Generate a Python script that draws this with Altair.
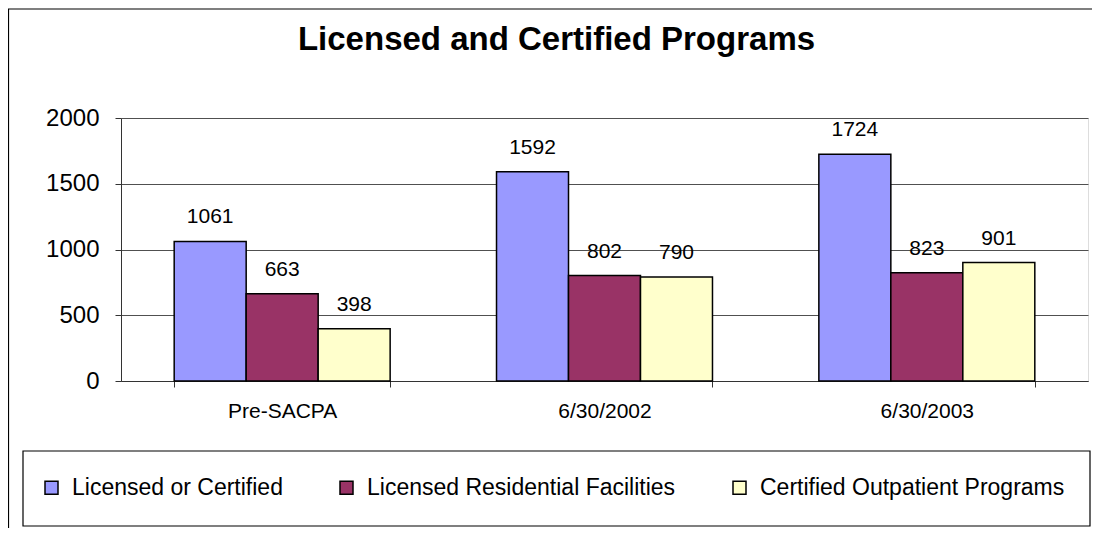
import altair as alt
import pandas as pd

categories = ["Pre-SACPA", "6/30/2002", "6/30/2003"]
series = ["Licensed or Certified", "Licensed Residential Facilities", "Certified Outpatient Programs"]
licensed_or_certified = [1061, 1592, 1724]
licensed_residential = [663, 802, 823]
certified_outpatient = [398, 790, 901]
colors = ["#9999FF", "#993366", "#FFFFCC"]
y_ticks = [0, 500, 1000, 1500, 2000]

rows = []
for s, vals in zip(series, [licensed_or_certified, licensed_residential, certified_outpatient]):
    for c, v in zip(categories, vals):
        rows.append({"category": c, "series": s, "value": v})
df = pd.DataFrame(rows)
one = pd.DataFrame({"k": [0]})

FONT = "Liberation Sans"

x_enc = alt.X("category:N", sort=categories, title=None,
              scale=alt.Scale(paddingInner=0.33, paddingOuter=0.165),
              axis=alt.Axis(labelAngle=0, labelFontSize=21, labelColor="black", labelFont=FONT,
                            labelPadding=13, tickBand="extent", tickSize=6, tickColor="#333333",
                            domainColor="#333333", grid=False))
xo_enc = alt.XOffset("series:N", sort=series, scale=alt.Scale(paddingInner=0, paddingOuter=0))
y_enc = alt.Y("value:Q", title=None,
              scale=alt.Scale(domain=[0, 2000], nice=False),
              axis=alt.Axis(values=y_ticks, format="d", labelFontSize=24, labelColor="black",
                            labelFont=FONT, labelPadding=16, tickSize=6, tickColor="#333333",
                            domainColor="#333333", gridColor="#505050", gridWidth=1))

frame_left = alt.Chart(one).mark_rule(color="black", strokeWidth=1.2).encode(
    x=alt.value(-112.5), y=alt.value(-109), y2=alt.value(440)
)
frame_top = alt.Chart(one).mark_rule(color="black", strokeWidth=1.2).encode(
    x=alt.value(-113), x2=alt.value(1500), y=alt.value(-109)
)
legend_box = alt.Chart(one).mark_rect(fill="white", stroke="black", strokeWidth=1.2).encode(
    x=alt.value(-98), x2=alt.value(969), y=alt.value(333), y2=alt.value(408)
)

bars = alt.Chart(df).mark_bar(stroke="black", strokeWidth=1.5).encode(
    x=x_enc, xOffset=xo_enc, y=y_enc,
    color=alt.Color("series:N", sort=series, scale=alt.Scale(domain=series, range=colors),
                    legend=alt.Legend(title=None, orient="none", legendX=-81, legendY=358,
                                      direction="horizontal", symbolType="square", symbolSize=169,
                                      symbolStrokeColor="black", symbolStrokeWidth=1.5,
                                      symbolOpacity=1, labelFontSize=23, labelFont=FONT,
                                      labelColor="black", labelOffset=9, columnPadding=52,
                                      labelLimit=500)),
)

labels = alt.Chart(df).mark_text(fontSize=21, font=FONT, color="black", baseline="alphabetic", dy=-18).encode(
    x=alt.X("category:N", sort=categories), xOffset=alt.XOffset("series:N", sort=series),
    y="value:Q", text="value:Q"
)

chart = alt.layer(frame_left, frame_top, legend_box, bars, labels).properties(
    width=967, height=263,
    padding={"left": 113, "top": 110, "right": 4, "bottom": 147},
    autosize=alt.AutoSizeParams(type="none"),
    title=alt.TitleParams("Licensed and Certified Programs", fontSize=33, fontWeight="bold",
                          font=FONT, color="black", anchor="middle", frame="group", dx=-48,
                          offset=-75, baseline="alphabetic"),
).configure_view(fill="#C0C0C0", stroke="#808080", strokeWidth=1).configure(background="white")

chart.save("out.html", embed_options={"renderer": "svg", "actions": False})
